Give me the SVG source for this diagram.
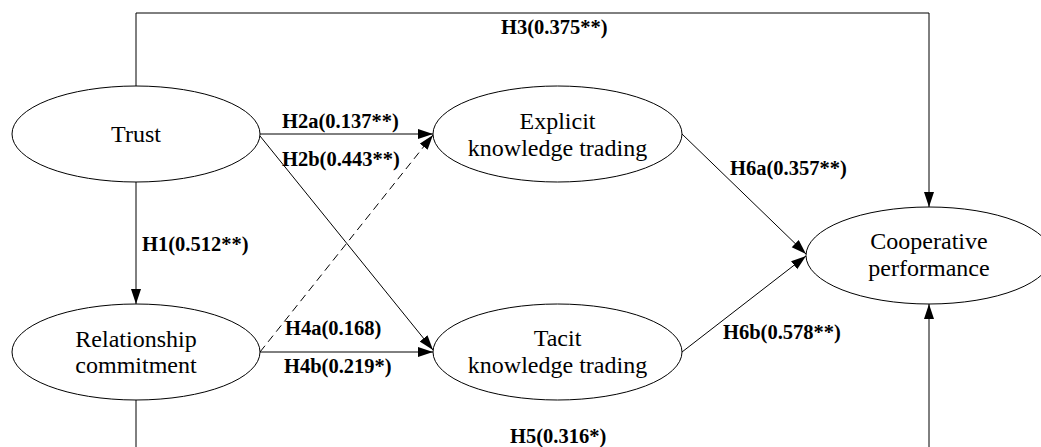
<svg xmlns="http://www.w3.org/2000/svg" width="1041" height="447" viewBox="0 0 1041 447">
<style>
.shape{fill:#fff;stroke:#000;stroke-width:1}
.nt{font-family:'Liberation Serif','Times New Roman',serif;font-size:24px;fill:#000;text-anchor:middle}
.conn{fill:none;stroke:#000;stroke-width:1}
.dash{stroke-dasharray:8 5}
.lbl{font-family:'Liberation Serif','Times New Roman',serif;font-size:20.5px;font-weight:bold;fill:#000}
</style>
<defs>
<marker id="arr" markerUnits="userSpaceOnUse" markerWidth="16" markerHeight="12" refX="15" refY="5" orient="auto">
<path d="M0,0 L15,5 L0,10 z" fill="#000"/>
</marker>
</defs>
<rect width="1041" height="447" fill="#fff"/>
<g id="connectors">
<path class="conn" d="M136,86 V13 H929 V207" marker-end="url(#arr)"/>
<path class="conn" d="M136,182 V304" marker-end="url(#arr)"/>
<path class="conn" d="M136,400 V460 H929 V304" marker-end="url(#arr)"/>
<path class="conn" d="M260,134 H433" marker-end="url(#arr)"/>
<path class="conn" d="M260,136 L433,350" marker-end="url(#arr)"/>
<path class="conn dash" d="M260,352 L433,135" marker-end="url(#arr)"/>
<path class="conn" d="M260,352 H433" marker-end="url(#arr)"/>
<path class="conn" d="M682,134 L806,254" marker-end="url(#arr)"/>
<path class="conn" d="M682,352 L806,256" marker-end="url(#arr)"/>
</g>
<g id="labels">
<text class="lbl" x="501" y="34">H3(0.375**)</text>
<text class="lbl" x="282" y="128">H2a(0.137**)</text>
<text class="lbl" x="282" y="166">H2b(0.443**)</text>
<text class="lbl" x="142" y="251">H1(0.512**)</text>
<text class="lbl" x="285" y="335">H4a(0.168)</text>
<text class="lbl" x="284" y="373">H4b(0.219*)</text>
<text class="lbl" x="730" y="175">H6a(0.357**)</text>
<text class="lbl" x="723" y="339">H6b(0.578**)</text>
<text class="lbl" x="510" y="443">H5(0.316*)</text>
</g>
<g id="trust">
<ellipse class="shape" cx="136" cy="134" rx="124" ry="48"/>
<text class="nt" x="136" y="142">Trust</text>
</g>
<g id="relationship-commitment">
<ellipse class="shape" cx="136" cy="352" rx="124" ry="48"/>
<text class="nt" x="136" y="347">Relationship</text>
<text class="nt" x="136" y="373">commitment</text>
</g>
<g id="explicit">
<ellipse class="shape" cx="557.5" cy="134" rx="124.5" ry="48"/>
<text class="nt" x="557.5" y="129">Explicit</text>
<text class="nt" x="557.5" y="156">knowledge trading</text>
</g>
<g id="tacit">
<ellipse class="shape" cx="557.5" cy="352" rx="124.5" ry="48"/>
<text class="nt" x="557.5" y="346">Tacit</text>
<text class="nt" x="557.5" y="373">knowledge trading</text>
</g>
<g id="cooperative">
<ellipse class="shape" cx="929" cy="255.5" rx="123" ry="48.5"/>
<text class="nt" x="929" y="249">Cooperative</text>
<text class="nt" x="929" y="276">performance</text>
</g>
</svg>
